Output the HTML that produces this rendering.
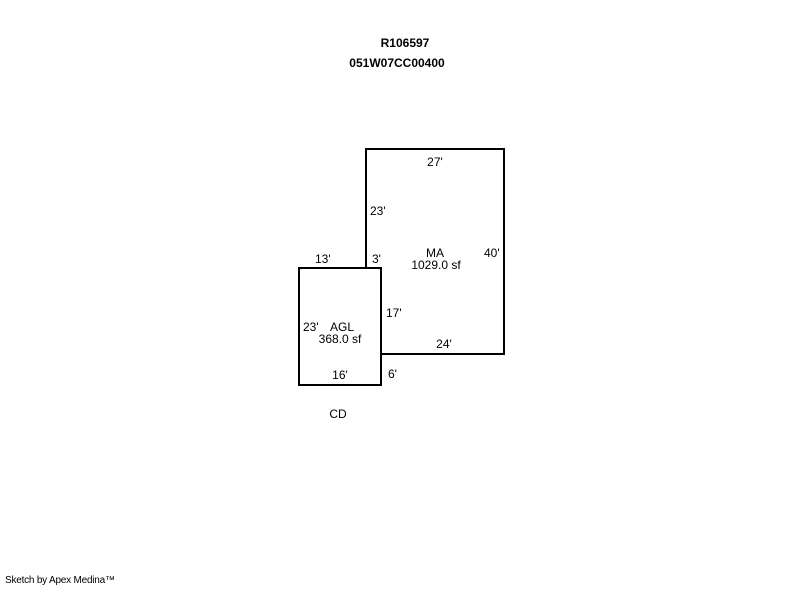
<!DOCTYPE html>
<html><head><style>
body{margin:0;width:800px;height:587px;background:#fff;overflow:hidden}
svg text{font-family:"Liberation Sans",Arial,sans-serif;font-size:12px;fill:#000}
</style></head><body>
<svg width="800" height="587" xmlns="http://www.w3.org/2000/svg">
<g fill="none" stroke="#000" stroke-width="2">
<polyline points="366,267 366,149 504,149 504,354 381,354"/>
<rect x="299" y="268" width="82" height="117"/>
</g>
<text x="405" y="47" text-anchor="middle" font-weight="bold">R106597</text>
<text x="397" y="67" text-anchor="middle" font-weight="bold">051W07CC00400</text>
<text x="435" y="166" text-anchor="middle">27'</text>
<text x="370" y="215">23'</text>
<text x="435" y="257" text-anchor="middle">MA</text>
<text x="436" y="269" text-anchor="middle">1029.0 sf</text>
<text x="484" y="257">40'</text>
<text x="315" y="263">13'</text>
<text x="372" y="263">3'</text>
<text x="386" y="317">17'</text>
<text x="303" y="331">23'</text>
<text x="342" y="331" text-anchor="middle">AGL</text>
<text x="340" y="343" text-anchor="middle">368.0 sf</text>
<text x="444" y="348" text-anchor="middle">24'</text>
<text x="340" y="379" text-anchor="middle">16'</text>
<text x="388" y="378">6'</text>
<text x="338" y="418" text-anchor="middle">CD</text>
<text x="5" y="583" style="font-size:10px" textLength="110">Sketch by Apex Medina™</text>
</svg>
</body></html>
